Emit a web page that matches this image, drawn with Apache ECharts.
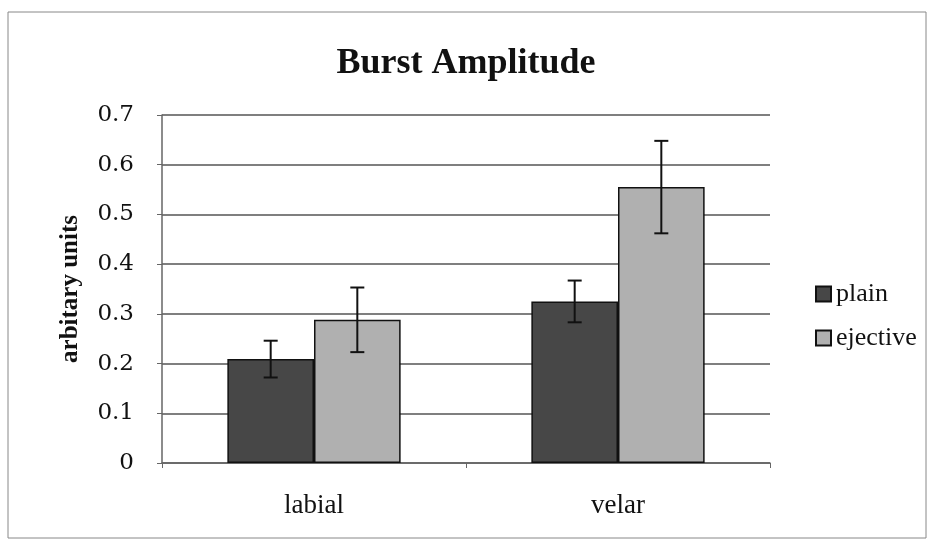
<!DOCTYPE html>
<html>
<head>
    <meta charset="utf-8">
    <title>Burst Amplitude</title>
    <script src="https://cdn.jsdelivr.net/npm/echarts@6/dist/echarts.min.js"></script>
</head>
<body style="margin:0;background:#fff;">
    <div id="main" style="width: 932px;height:542px;"></div>
    <script type="text/javascript">
var categories = ['labial', 'velar'];
var plainVals = [0.209, 0.325];
var plainErr = [0.037, 0.042];
var ejectiveVals = [0.288, 0.555];
var ejectiveErr = [0.065, 0.093];
var yTicks = [0, 0.1, 0.2, 0.3, 0.4, 0.5, 0.6, 0.7];

var myChart = echarts.init(document.getElementById('main'));
var serif = '"Liberation Serif", "DejaVu Serif", serif';
var catGap = 0.43;

// error bars drawn on top of the grouped bars
function errorSeries(vals, errs, side) {
    var data = vals.map(function (v, i) { return [i, v - errs[i], v + errs[i]]; });
    return {
        type: 'custom',
        name: 'err' + side,
        z: 10,
        data: data,
        renderItem: function (params, api) {
            var band = api.size([1, 0])[0];
            var bw = band * (1 - catGap) / 2;
            var lo = api.coord([api.value(0), api.value(1)]);
            var hi = api.coord([api.value(0), api.value(2)]);
            var x = lo[0] + side * bw / 2;
            var cap = 7;
            var st = { stroke: '#111', lineWidth: 2 };
            return {
                type: 'group',
                children: [
                    { type: 'line', shape: { x1: x, y1: hi[1], x2: x, y2: lo[1] }, style: st },
                    { type: 'line', shape: { x1: x - cap, y1: hi[1], x2: x + cap, y2: hi[1] }, style: st },
                    { type: 'line', shape: { x1: x - cap, y1: lo[1], x2: x + cap, y2: lo[1] }, style: st }
                ]
            };
        }
    };
}

option = {
    animation: false,
    title: {
        text: 'Burst Amplitude',
        left: 'center',
        top: 41,
        textStyle: { fontFamily: serif, fontSize: 36, fontWeight: 'bold', color: '#111' }
    },
    legend: {
        data: ['plain', 'ejective'],
        orient: 'vertical',
        left: 810,
        top: 276,
        itemWidth: 15,
        itemHeight: 15,
        itemGap: 18,
        icon: 'rect',
        textStyle: { fontFamily: serif, fontSize: 26, color: '#111' }
    },
    grid: { left: 162, right: 162, top: 115, bottom: 79 },
    xAxis: {
        type: 'category',
        data: categories,
        axisLine: { lineStyle: { color: '#666', width: 1.5 } },
        axisTick: { show: true, length: 5, lineStyle: { color: '#666' } },
        axisLabel: { fontFamily: serif, fontSize: 27, color: '#111', margin: 29 }
    },
    yAxis: {
        type: 'value',
        min: 0,
        max: 0.7,
        interval: 0.1,
        name: 'arbitary units',
        nameLocation: 'middle',
        nameGap: 79,
        nameTextStyle: { fontFamily: serif, fontSize: 25, fontWeight: 'bold', color: '#111' },
        axisLine: { show: true, lineStyle: { color: '#666', width: 1.5 } },
        axisTick: { show: true, length: 5, lineStyle: { color: '#666' } },
        axisLabel: {
            fontFamily: '"DejaVu Serif", serif', fontSize: 23, color: '#111', margin: 28,
            padding: [10, 0, 0, 0],
            formatter: function (v) {
                var t = yTicks.find(function (k) { return Math.abs(k - v) < 1e-6; });
                return t === 0 ? '0' : String(t);
            }
        },
        splitLine: { lineStyle: { color: '#555', width: 1.5 } }
    },
    series: [
        {
            name: 'plain',
            type: 'bar',
            data: plainVals,
            barGap: '0%',
            barCategoryGap: (catGap * 100) + '%',
            itemStyle: { color: '#474747', borderColor: '#111', borderWidth: 1.5 }
        },
        {
            name: 'ejective',
            type: 'bar',
            data: ejectiveVals,
            itemStyle: { color: '#b0b0b0', borderColor: '#111', borderWidth: 1.5 }
        },
        errorSeries(plainVals, plainErr, -1),
        errorSeries(ejectiveVals, ejectiveErr, 1)
    ],
    graphic: [{
        type: 'rect',
        shape: { x: 8, y: 12, width: 918, height: 526 },
        style: { fill: 'none', stroke: '#888', lineWidth: 1 },
        silent: true
    }]
};

myChart.setOption(option);
    </script>
</body>
</html>
